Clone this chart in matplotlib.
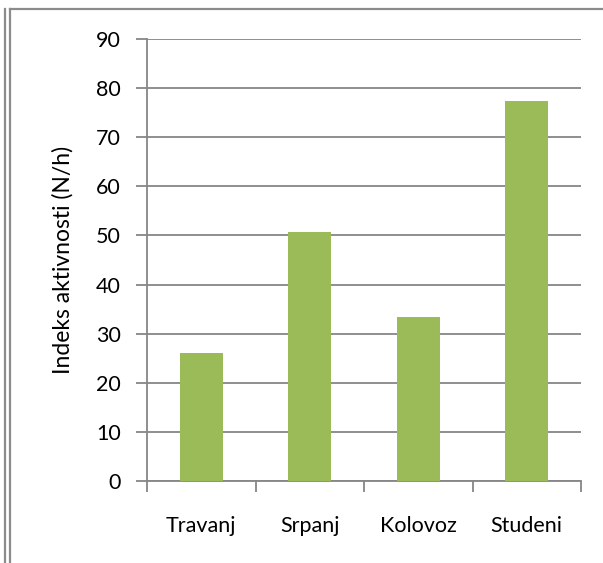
import matplotlib
matplotlib.use("Agg")
import matplotlib.pyplot as plt
from matplotlib.lines import Line2D
import numpy as np

months = ["Travanj", "Srpanj", "Kolovoz", "Studeni"]
activity = [26.0, 50.8, 33.3, 77.4]
y_ticks = [0, 10, 20, 30, 40, 50, 60, 70, 80, 90]

plt.rcParams['font.family'] = ['Lato', 'DejaVu Sans']

W, H = 603, 563
fig = plt.figure(figsize=(W / 100, H / 100), dpi=100)
ax = fig.add_axes([147 / W, 1 - 481 / H, (581 - 147) / W, (481 - 39) / H])

grid_c = "#868686"
x = np.arange(len(months))
ax.bar(x, activity, width=0.4, color="#9BBB59", zorder=3)

ax.set_xlim(-0.5, len(months) - 0.5)
ax.set_ylim(0, 90)
ax.set_yticks(y_ticks)
ax.set_yticklabels([str(v) for v in y_ticks], fontsize=15.5)
ax.yaxis.grid(True, color=grid_c, linewidth=1.3, zorder=0)
ax.set_axisbelow(True)

# category labels between boundary ticks
ax.set_xticks(np.arange(-0.5, len(months)), minor=False)
ax.set_xticklabels([])
ax.set_xticks(x, minor=True)
ax.set_xticklabels(months, minor=True, fontsize=15.5)
ax.tick_params(axis="x", which="minor", length=0, pad=25)
ax.tick_params(axis="x", which="major", length=8, width=1.3, color=grid_c, direction="out")
ax.tick_params(axis="y", length=8, width=1.3, color=grid_c, pad=11)

for s in ["top", "right"]:
    ax.spines[s].set_visible(False)
for s in ["left", "bottom"]:
    ax.spines[s].set_color(grid_c)
    ax.spines[s].set_linewidth(1.3)

ax.set_ylabel("Indeks aktivnosti (N/h)", fontsize=16.5, labelpad=16)

# outer frame: double line on the left, single line on top
frame_c = "#8c8c8c"
for xp in (4.5, 10):
    fig.add_artist(Line2D([xp / W, xp / W], [0, 1 - 9 / H], color=frame_c, linewidth=1.6,
                          transform=fig.transFigure))
fig.add_artist(Line2D([10 / W, 1], [1 - 9 / H, 1 - 9 / H], color=frame_c, linewidth=1.6,
                      transform=fig.transFigure))

fig.savefig("out.png", dpi=100)
